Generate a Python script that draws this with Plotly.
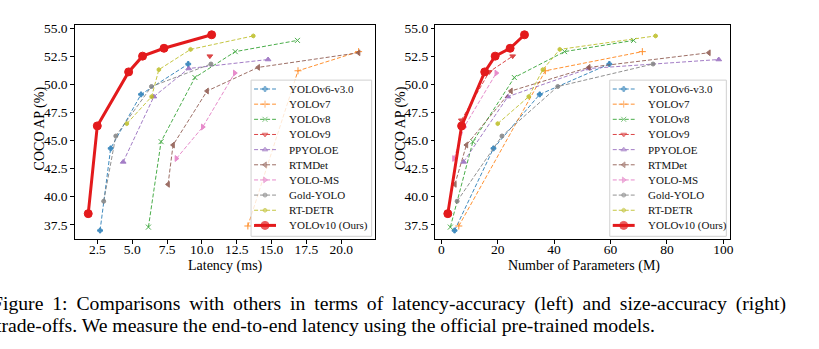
import plotly.graph_objects as go

W, H = 819, 349

# ---- data: COCO AP vs latency (ms) and vs parameter count (M) ----
names = ["YOLOv6-v3.0", "YOLOv7", "YOLOv8", "YOLOv9", "PPYOLOE", "RTMDet",
         "YOLO-MS", "Gold-YOLO", "RT-DETR", "YOLOv10 (Ours)"]

yolov6_ap = [37.0, 44.3, 49.1, 51.8]
yolov6_lat = [2.69, 3.45, 5.63, 9.02]
yolov6_par = [4.7, 18.5, 34.9, 59.6]

yolov7_ap = [37.4, 51.2, 52.9]
yolov7_lat = [13.3, 16.9, 21.25]
yolov7_par = [6.2, 36.9, 71.3]

yolov8_ap = [37.3, 44.9, 50.6, 52.9, 53.9]
yolov8_lat = [6.16, 7.07, 9.50, 12.39, 16.86]
yolov8_par = [3.2, 11.2, 25.9, 43.7, 68.2]

yolov9_ap = [46.8, 51.1, 52.5]
yolov9_lat = [None, None, 10.57]
yolov9_par = [7.1, 17.0, 25.3]

ppyoloe_ap = [43.1, 48.9, 51.4, 52.2]
ppyoloe_lat = [4.35, 6.55, 9.05, 14.75]
ppyoloe_par = [7.9, 23.6, 52.3, 98.4]

rtmdet_ap = [41.1, 44.6, 49.4, 51.5, 52.8]
rtmdet_lat = [7.57, 7.93, 10.37, 14.04, 21.25]
rtmdet_par = [4.8, 8.9, 24.7, 52.3, 94.9]

yoloms_ap = [43.4, 46.2, 51.0]
yoloms_lat = [8.17, 10.06, 12.36]
yoloms_par = [4.5, 8.1, 19.5]

gold_ap = [39.6, 45.4, 49.8, 51.8]
gold_lat = [2.95, 3.82, 6.38, 10.65]
gold_par = [5.6, 21.5, 41.3, 75.1]

rtdetr_ap = [46.5, 48.9, 51.3, 53.1, 54.3]
rtdetr_lat = [4.61, 6.39, 6.91, 9.19, 13.69]
rtdetr_par = [20.0, 31.0, 36.0, 42.0, 76.0]

yolov10_ap = [38.5, 46.3, 51.1, 52.5, 53.2, 54.4]
yolov10_lat = [1.84, 2.49, 4.74, 5.74, 7.28, 10.70]
yolov10_par = [2.3, 7.2, 15.4, 19.1, 24.4, 29.5]

lat_ticks = [2.5, 5.0, 7.5, 10.0, 12.5, 15.0, 17.5, 20.0]
par_ticks = [0, 20, 40, 60, 80, 100]
ap_ticks = [37.5, 40.0, 42.5, 45.0, 47.5, 50.0, 52.5, 55.0]

series = [
    (yolov6_ap, yolov6_lat, yolov6_par),
    (yolov7_ap, yolov7_lat, yolov7_par),
    (yolov8_ap, yolov8_lat, yolov8_par),
    (yolov9_ap, yolov9_lat, yolov9_par),
    (ppyoloe_ap, ppyoloe_lat, ppyoloe_par),
    (rtmdet_ap, rtmdet_lat, rtmdet_par),
    (yoloms_ap, yoloms_lat, yoloms_par),
    (gold_ap, gold_lat, gold_par),
    (rtdetr_ap, rtdetr_lat, rtdetr_par),
    (yolov10_ap, yolov10_lat, yolov10_par),
]

# ---- styles ----
colors = ["#1f77b4", "#ff7f0e", "#2ca02c", "#d62728", "#9467bd", "#8c564b",
          "#e377c2", "#7f7f7f", "#bcbd22", "#e31a1c"]
symbols = ["cross", "cross-thin", "x-thin", "triangle-down", "triangle-up",
           "triangle-left", "triangle-right", "circle", "hexagon", "circle"]
msizes = [4, 5, 5, 5, 5, 5, 5, 4, 4, 8]
SERIF = "Liberation Serif"


def style(i):
    ours = i == len(names) - 1
    line = dict(color=colors[i], width=3 if ours else 1,
                dash="solid" if ours else "4px,2px")
    marker = dict(symbol=symbols[i], size=msizes[i], color=colors[i],
                  line=dict(color=colors[i], width=1))
    return line, marker


fig = go.Figure()

for i, (ap, lat, par) in enumerate(series):
    line, marker = style(i)
    op = 1 if i == len(names) - 1 else 0.85
    pts = [(x, y) for x, y in zip(lat, ap) if x is not None]
    fig.add_trace(go.Scatter(x=[p[0] for p in pts], y=[p[1] for p in pts],
                             mode="lines+markers", line=line, marker=marker,
                             xaxis="x", yaxis="y", showlegend=False,
                             name=names[i], opacity=op))
    fig.add_trace(go.Scatter(x=par, y=ap, mode="lines+markers", line=line,
                             marker=marker, xaxis="x2", yaxis="y2",
                             showlegend=False, name=names[i], opacity=op))


# ---- legend boxes drawn in a pixel-space overlay axis ----
def add_legend(box_x0, box_x1, box_y0, box_y1):
    fig.add_trace(go.Scatter(
        x=[box_x0, box_x1, box_x1, box_x0, box_x0],
        y=[box_y0, box_y0, box_y1, box_y1, box_y0],
        fill="toself", fillcolor="rgba(255,255,255,0.8)",
        line=dict(color="#d0d0d0", width=1), mode="lines",
        xaxis="x3", yaxis="y3", showlegend=False, hoverinfo="skip"))
    for i, name in enumerate(names):
        yc = box_y0 + 9 + i * 15.33
        line, marker = style(i)
        sx0, sx1 = box_x0 + 3, box_x0 + 25
        marker = dict(marker)
        marker["size"] = [0, msizes[i], 0]
        fig.add_trace(go.Scatter(
            x=[sx0, (sx0 + sx1) / 2, sx1], y=[yc, yc, yc],
            mode="lines+markers", line=line, marker=marker,
            xaxis="x3", yaxis="y3", showlegend=False, hoverinfo="skip",
            opacity=1 if i == len(names) - 1 else 0.85))
        fig.add_annotation(x=box_x0 + 36, y=yc, xref="x3", yref="y3",
                           text=name, showarrow=False, xanchor="left",
                           yanchor="middle",
                           font=dict(family=SERIF, size=11, color="#111"))


add_legend(252, 373, 77, 235)
add_legend(612, 729, 77, 235)

axis_common = dict(showline=True, linecolor="black", linewidth=1, mirror=True,
                   ticks="outside", ticklen=3.5, tickwidth=1,
                   tickcolor="black", showgrid=False, zeroline=False,
                   tickfont=dict(family=SERIF, size=13.5, color="black"))

ydom = [1 - 238 / H, 1 - 21 / H]
fig.update_layout(
    width=W, height=H, margin=dict(l=0, r=0, t=0, b=0),
    paper_bgcolor="white", plot_bgcolor="rgba(0,0,0,0)",
    font=dict(family=SERIF),
    xaxis=dict(domain=[75 / W, 376 / W], range=[0.87, 22.4],
               tickvals=lat_ticks, ticktext=[f"{v:.1f}" for v in lat_ticks],
               ticklabelstandoff=-6, anchor="y", **axis_common),
    yaxis=dict(domain=ydom, range=[36.22, 55.29], tickvals=ap_ticks,
               ticktext=[f"{v:.1f}" for v in ap_ticks], anchor="x",
               **axis_common),
    xaxis2=dict(domain=[437 / W, 733 / W], range=[-2.1, 102.5],
                tickvals=par_ticks, ticktext=[str(v) for v in par_ticks],
                ticklabelstandoff=-6, anchor="y2", **axis_common),
    yaxis2=dict(domain=ydom, range=[36.22, 55.29], tickvals=ap_ticks,
                ticktext=[f"{v:.1f}" for v in ap_ticks], anchor="x2",
                **axis_common),
    xaxis3=dict(domain=[0, 1], range=[0, W], visible=False, fixedrange=True,
                anchor="y3"),
    yaxis3=dict(domain=[0, 1], range=[H, 0], visible=False, fixedrange=True,
                anchor="x3"),
)

# axis titles
title_font = dict(family=SERIF, size=14, color="black")
for x_px, txt in [(40, "COCO AP (%)"), (402, "COCO AP (%)")]:
    fig.add_annotation(x=x_px / W, y=1 - 126 / H, xref="paper", yref="paper",
                       xanchor="center", yanchor="middle",
                       text=txt, textangle=-90, showarrow=False,
                       font=title_font)
fig.add_annotation(x=226 / W, y=1 - 265 / H, xref="paper", yref="paper",
                   xanchor="center", yanchor="middle",
                   text="Latency (ms)", showarrow=False, font=title_font)
fig.add_annotation(x=586 / W, y=1 - 265 / H, xref="paper", yref="paper",
                   xanchor="center", yanchor="middle",
                   text="Number of Parameters (M)", showarrow=False,
                   font=title_font)

# figure caption (first line justified with extra inter-word space)
cap_font = dict(family=SERIF, size=19.7, color="black")
cap1 = ("Figure 1: Comparisons with others in terms of "
        "latency-accuracy (left) and size-accuracy (right)")
cap2 = ("trade-offs. We measure the end-to-end latency using "
        "the official pre-trained models.")
fig.add_annotation(x=-10 / W, y=1 - 303 / H, xref="paper", yref="paper",
                   xanchor="left", yanchor="middle", showarrow=False,
                   text=cap1.replace(" ", " \u2009"), font=cap_font)
fig.add_annotation(x=-6 / W, y=1 - 325 / H, xref="paper", yref="paper",
                   xanchor="left", yanchor="middle", showarrow=False,
                   text=cap2, font=cap_font)

fig.write_html("out.html")
